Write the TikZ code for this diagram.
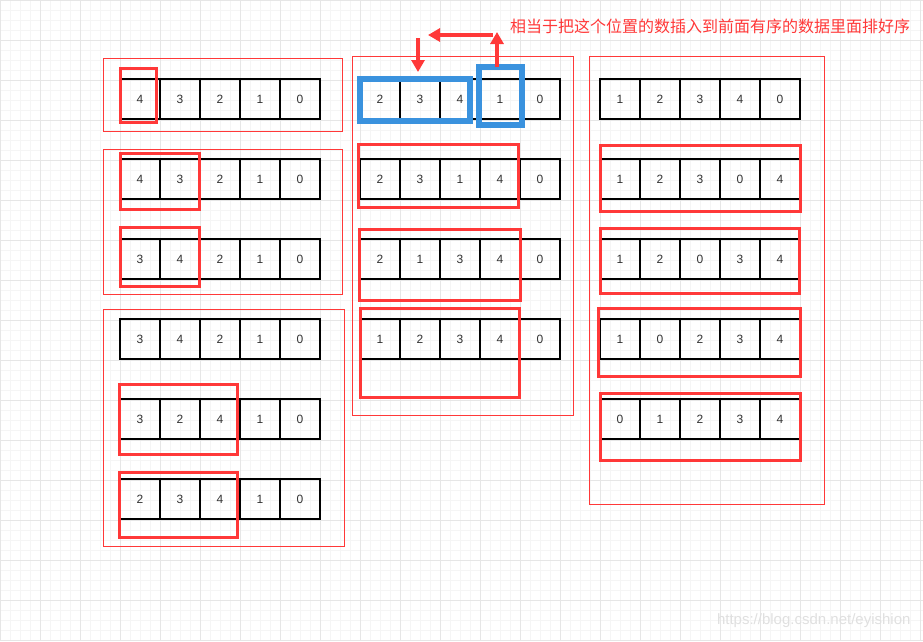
\documentclass[tikz,border=0pt]{standalone}
\usepackage{fontspec}
\setmainfont{Liberation Sans}
\newfontfamily\cjk{Noto Sans CJK SC}
\usetikzlibrary{arrows.meta}

\definecolor{hlred}{HTML}{FF3838}
\definecolor{hlblue}{HTML}{3A92DE}
\definecolor{gridmajor}{HTML}{E6E6E6}
\definecolor{gridminor}{HTML}{F5F5F5}

% one row of five cells: name, centre x of the first cell, centre y, values
\newcommand{\cellrow}[4]{%
  \foreach \v [count=\i] in {#4}
    \node[cell] (#1-\i) at ({#2+40*(\i-1)},#3) {\v};
}

\begin{document}
\begin{tikzpicture}[
    x=1pt, y=-1pt,
    cell/.style={draw=black, line width=2pt, minimum size=40pt, inner sep=0pt, outer sep=0pt,
                 text=black!80, font=\fontsize{12}{14}\selectfont},
    group/.style={draw=hlred, line width=1pt},
    hl/.style={draw=hlred, line width=3.5pt},
    sel/.style={draw=hlblue, line width=6pt, inner sep=0pt, outer sep=0pt},
    move/.style={draw=hlred, line width=4pt, -{Triangle[length=12pt,width=13pt]}}
  ]
    \useasboundingbox (0,0) rectangle (923,641);
    \fill[white] (0,0) rectangle (923,641);
    \foreach \g in {0,10,...,920} \draw[gridminor, line width=0.8pt] (\g,0) -- (\g,641);
    \foreach \g in {0,10,...,640} \draw[gridminor, line width=0.8pt] (0,\g) -- (923,\g);
    \foreach \g in {0,40,...,920} \draw[gridmajor, line width=1pt] (\g,0) -- (\g,641);
    \foreach \g in {0,40,...,640} \draw[gridmajor, line width=1pt] (0,\g) -- (923,\g);

    % outer frames
    \draw[group] (103,58) rectangle (342,131);
    \draw[group] (103,149) rectangle (342,294);
    \draw[group] (103,309) rectangle (344,546);
    \draw[group] (352,56) rectangle (573,415);
    \draw[group] (589,56) rectangle (824,504);

    % left column
    \cellrow{a}{140}{99}{4,3,2,1,0}
    \cellrow{b}{140}{179}{4,3,2,1,0}
    \cellrow{c}{140}{259}{3,4,2,1,0}
    \cellrow{d}{140}{339}{3,4,2,1,0}
    \cellrow{e}{140}{419}{3,2,4,1,0}
    \cellrow{f}{140}{499}{2,3,4,1,0}

    % middle column
    \cellrow{g}{380}{99}{2,3,4,1,0}
    \cellrow{h}{380}{179}{2,3,1,4,0}
    \cellrow{k}{380}{259}{2,1,3,4,0}
    \cellrow{m}{380}{339}{1,2,3,4,0}

    % right column
    \cellrow{n}{620}{99}{1,2,3,4,0}
    \cellrow{p}{620}{179}{1,2,3,0,4}
    \cellrow{q}{620}{259}{1,2,0,3,4}
    \cellrow{r}{620}{339}{1,0,2,3,4}
    \cellrow{s}{620}{419}{0,1,2,3,4}

    % sorted part
    \draw[hl] (120.5,68.5) rectangle (156.5,122.5);
    \draw[hl] (120.5,153.5) rectangle (199.5,209.5);
    \draw[hl] (120.5,227.5) rectangle (199.5,286.5);
    \draw[hl] (119.5,384.5) rectangle (237.5,454.5);
    \draw[hl] (119.5,472.5) rectangle (237.5,537.5);
    \draw[hl] (358.5,144.5) rectangle (518.5,207.5);
    \draw[hl] (359.5,229.5) rectangle (520.5,300.5);
    \draw[hl] (360.5,308.5) rectangle (519.5,397.5);
    \draw[hl] (600.5,145.5) rectangle (800.5,211.5);
    \draw[hl] (600.5,228.5) rectangle (799.5,293.5);
    \draw[hl] (598.5,308.5) rectangle (800.5,376.5);
    \draw[hl] (600.5,393.5) rectangle (800.5,460.5);

    \node[sel, minimum width=110pt, minimum height=42pt] (sorted) at (415,100) {};
    \node[sel, minimum width=43pt, minimum height=58pt] (pick) at (500,96) {};

    \coordinate (up) at (497,32);
    \coordinate (turn) at (493,35);
    \coordinate (back) at (428,35);
    \coordinate (drop) at (418,38);
    \coordinate (land) at (418,72);
    \draw[move] (pick.north -| up) -- (up);
    \draw[move] (turn) -- (back);
    \draw[move] (drop) -- (land);

    \node[text=hlred, font=\cjk\fontsize{16}{18}\selectfont, anchor=west, inner sep=0pt] (note) at (510,26)
      {相当于把这个位置的数插入到前面有序的数据里面排好序};
    \node[text=black!12, font=\fontsize{15}{18}\selectfont, anchor=east] (mark) at (914,621)
      {https://blog.csdn.net/eyishion};
\end{tikzpicture}
\end{document}
